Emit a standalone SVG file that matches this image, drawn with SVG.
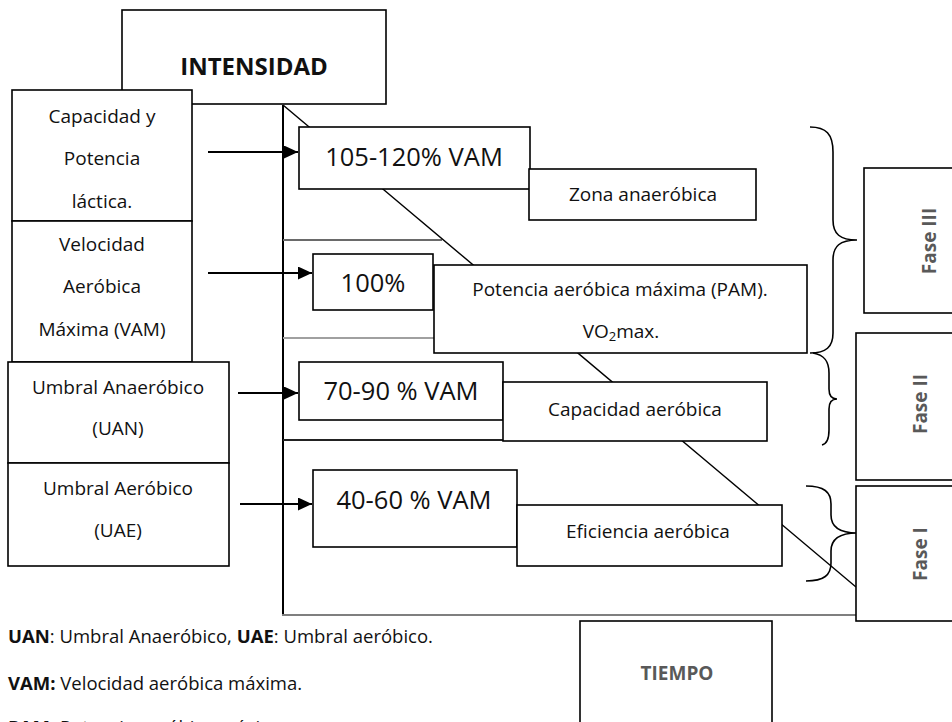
<svg xmlns="http://www.w3.org/2000/svg" width="952" height="722" viewBox="0 0 952 722">
  <defs>
    <marker id="arrowhead" markerUnits="userSpaceOnUse" markerWidth="15" markerHeight="13" refX="14" refY="6.5" orient="auto">
      <path d="M0,0 L14,6.5 L0,13 Z" fill="#000"/>
    </marker>
  </defs>
  <style>
    .box { fill: #fff; stroke: #000; stroke-width: 1.6; }
    .t { font-family: "Open Sans", "Liberation Sans", sans-serif; fill: #111; text-anchor: middle; }
    .s19 { font-size: 19px; }
    .s26 { font-size: 25.5px; }
    .bold { font-weight: bold; }
    .grey { fill: #595959; }
    .note { font-family: "Open Sans", "Liberation Sans", sans-serif; font-size: 18.5px; fill: #111; }
    .arrow { stroke: #000; stroke-width: 2.2; fill: none; marker-end: url(#arrowhead); }
    .brace { stroke: #000; stroke-width: 1.6; fill: none; }
  </style>

  <rect width="952" height="722" fill="#fff"/>

  <!-- axis title -->
  <g id="intensidad">
    <rect class="box" x="122" y="10" width="264" height="94"/>
    <text class="t bold" x="254" y="75" font-size="24">INTENSIDAD</text>
  </g>

  <!-- left column: physiological markers -->
  <g id="capacidad-potencia">
    <rect class="box" x="12" y="90" width="180" height="131"/>
    <text class="t s19" x="102" y="123">Capacidad y</text>
    <text class="t s19" x="102" y="165">Potencia</text>
    <text class="t s19" x="102" y="208">láctica.</text>
  </g>
  <g id="vam">
    <rect class="box" x="12" y="221" width="180" height="141"/>
    <text class="t s19" x="102" y="251">Velocidad</text>
    <text class="t s19" x="102" y="293">Aeróbica</text>
    <text class="t s19" x="102" y="336">Máxima (VAM)</text>
  </g>
  <g id="uan">
    <rect class="box" x="8" y="362" width="221" height="101"/>
    <text class="t s19" x="118" y="394">Umbral Anaeróbico</text>
    <text class="t s19" x="118" y="435">(UAN)</text>
  </g>
  <g id="uae">
    <rect class="box" x="8" y="463" width="221" height="103"/>
    <text class="t s19" x="118" y="495">Umbral Aeróbico</text>
    <text class="t s19" x="118" y="537">(UAE)</text>
  </g>

  <!-- chart frame, zone separators and decreasing diagonal -->
  <g id="frame">
    <line x1="283" y1="105" x2="283" y2="616" stroke="#000" stroke-width="2"/>
    <line x1="282" y1="615" x2="856" y2="615" stroke="#7f7f7f" stroke-width="2.2"/>
    <line x1="283" y1="240" x2="442" y2="240" stroke="#6a6a6a" stroke-width="2"/>
    <line x1="283" y1="338" x2="434" y2="338" stroke="#a0a0a0" stroke-width="2"/>
    <line x1="283" y1="440" x2="503" y2="440" stroke="#222" stroke-width="2"/>
    <line x1="283" y1="105" x2="856" y2="587" stroke="#000" stroke-width="1.4"/>
  </g>

  <!-- intensity zones -->
  <g id="zona-105-120">
    <rect class="box" x="299" y="127" width="231" height="62"/>
    <text class="t s26" x="414" y="166">105-120% VAM</text>
  </g>
  <g id="zona-anaerobica">
    <rect class="box" x="529" y="169" width="227" height="51"/>
    <text class="t s19" x="643" y="201">Zona anaeróbica</text>
  </g>
  <g id="zona-100">
    <rect class="box" x="313" y="254" width="120" height="56"/>
    <text class="t s26" x="373" y="292">100%</text>
  </g>
  <g id="zona-pam">
    <rect class="box" x="434" y="265" width="373" height="88"/>
    <text class="t s19" x="620" y="296">Potencia aeróbica máxima (PAM).</text>
    <text class="t s19" x="621" y="338">VO<tspan font-size="13" dy="3">2</tspan><tspan dy="-3">max.</tspan></text>
  </g>
  <g id="zona-70-90">
    <rect class="box" x="299" y="362" width="204" height="58"/>
    <text class="t s26" x="401" y="400">70-90 % VAM</text>
  </g>
  <g id="zona-capacidad">
    <rect class="box" x="503" y="382" width="264" height="59"/>
    <text class="t s19" x="635" y="416">Capacidad aeróbica</text>
  </g>
  <g id="zona-40-60">
    <rect class="box" x="313" y="470" width="204" height="77"/>
    <text class="t s26" x="414" y="509">40-60 % VAM</text>
  </g>
  <g id="zona-eficiencia">
    <rect class="box" x="517" y="505" width="265" height="61"/>
    <text class="t s19" x="648" y="538">Eficiencia aeróbica</text>
  </g>

  <!-- connectors from markers to zones -->
  <g id="connectors">
    <line class="arrow" x1="208" y1="152" x2="298" y2="152"/>
    <line class="arrow" x1="208" y1="273" x2="312" y2="273"/>
    <line class="arrow" x1="238" y1="393" x2="298" y2="393"/>
    <line class="arrow" x1="240" y1="504" x2="312" y2="504"/>
  </g>

  <!-- phase braces -->
  <g id="braces">
    <path class="brace" d="M810,127 C826,127 833,134 833,152 L833,220 C833,234 840,240 857,240 C840,240 833,246 833,260 L833,333 C833,347 826,353 810,353"/>
    <path class="brace" d="M813,353 C825,355 829,362 829,373 L829,389 C829,396 832,399 837,399 C832,399 829,402 829,409 L829,430 C829,440 826,444 822,445"/>
    <path class="brace" d="M806,486 C824,486 831,492 831,504 L831,515 C831,527 840,533 857,533 C840,533 831,539 831,551 L831,563 C831,575 824,581 806,581"/>
  </g>

  <!-- phases -->
  <g id="fase-3">
    <rect class="box" x="864" y="168" width="100" height="145"/>
    <text class="t bold grey s19" transform="translate(936,241) rotate(-90)">Fase III</text>
  </g>
  <g id="fase-2">
    <rect class="box" x="856" y="333" width="108" height="147"/>
    <text class="t bold grey s19" transform="translate(927,404) rotate(-90)">Fase II</text>
  </g>
  <g id="fase-1">
    <rect class="box" x="856" y="486" width="108" height="135"/>
    <text class="t bold grey s19" transform="translate(927,554) rotate(-90)">Fase I</text>
  </g>

  <!-- time axis title -->
  <g id="tiempo">
    <rect class="box" x="580" y="621" width="192" height="120"/>
    <text class="t bold grey s19" x="677" y="680">TIEMPO</text>
  </g>

  <!-- abbreviations -->
  <g id="notes">
    <text class="note" x="8" y="643"><tspan font-weight="bold">UAN</tspan>: Umbral Anaeróbico, <tspan font-weight="bold">UAE</tspan>: Umbral aeróbico.</text>
    <text class="note" x="8" y="690"><tspan font-weight="bold">VAM:</tspan> Velocidad aeróbica máxima.</text>
    <text class="note" x="8" y="734"><tspan font-weight="bold">PAM:</tspan> Potencia aeróbica máxima.</text>
  </g>
</svg>
